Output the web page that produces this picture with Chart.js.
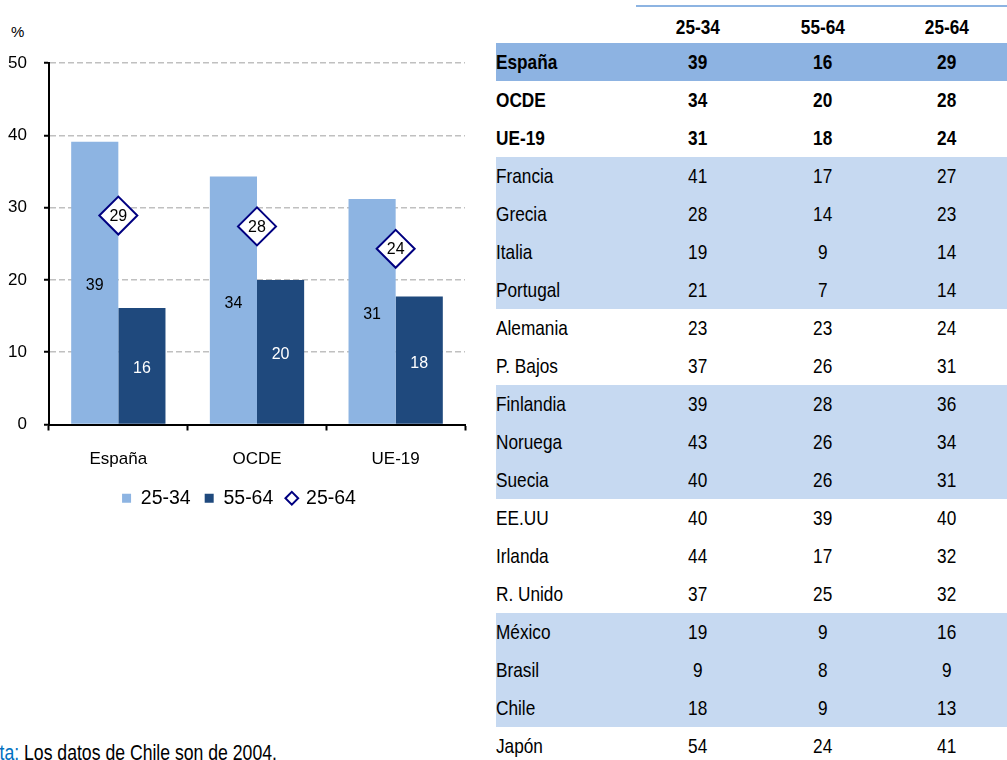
<!DOCTYPE html>
<html>
<head>
<meta charset="utf-8">
<script src="https://cdn.jsdelivr.net/npm/chart.js@4.4.1/dist/chart.umd.min.js"></script>
<style>
  html, body { margin: 0; padding: 0; background: #fff; overflow: hidden; }
  body { width: 1007px; height: 760px; position: relative; font-family: Arial, "Liberation Sans", sans-serif; }
  #chartBox { position: absolute; left: 0; top: 0; width: 486px; height: 526px; }
  #pct { position: absolute; left: 11px; top: 23px; font-size: 15px; color: #000; }
  #tableBox { position: absolute; left: 496px; top: 5px; }
  table { border-collapse: collapse; font-family: "Liberation Sans", Arial, sans-serif; font-size: 21px; color: #000; }
  td, th { height: 38px; padding: 0; white-space: nowrap; }
  td.name { width: 140px; text-align: left; }
  td.num, th.num { text-align: center; }
  .nw { display: inline-block; transform: scaleX(0.82); }
  td.name .nw { transform-origin: 0 50%; }
  td.num .nw, th.num .nw { transform-origin: 50% 50%; }
  th { font-weight: bold; border-top: 2px solid #8db4e2; padding-top: 4px; height: 32px; }
  th.blank { border-top: none; }
  tr.dark td { background: #8db3e2; }
  tr.light td { background: #c6d9f1; }
  tr.bold td { font-weight: bold; }
  #nota { position: absolute; left: -23px; top: 741px; font-family: "Liberation Sans", Arial, sans-serif; font-size: 21.5px; color: #000; white-space: nowrap; transform: scaleX(0.82); transform-origin: 0 50%; }
  #nota span { color: #0070c0; }
</style>
</head>
<body>
<div id="pct">%</div>
<div id="chartBox"><canvas id="barChart"></canvas></div>
<div id="tableBox"><table id="tbl"></table></div>
<div id="nota"><span>Nota:</span> Los datos de Chile son de 2004.</div>
<script>
// datos del gráfico
const categories = ['España', 'OCDE', 'UE-19'];
const young = [39.1, 34.3, 31.2];   // 25-34
const old = [16.1, 20.0, 17.7];     // 55-64
const total = [28.9, 27.4, 24.3];   // 25-64
const yTicks = [0, 10, 20, 30, 40, 50];

// datos de la tabla
const countries = ['España', 'OCDE', 'UE-19', 'Francia', 'Grecia', 'Italia', 'Portugal', 'Alemania', 'P. Bajos',
  'Finlandia', 'Noruega', 'Suecia', 'EE.UU', 'Irlanda', 'R. Unido', 'México', 'Brasil', 'Chile', 'Japón'];
const t2534 = [39, 34, 31, 41, 28, 19, 21, 23, 37, 39, 43, 40, 40, 44, 37, 19, 9, 18, 54];
const t5564 = [16, 20, 18, 17, 14, 9, 7, 23, 26, 28, 26, 26, 39, 17, 25, 9, 8, 9, 24];
const t2564 = [29, 28, 24, 27, 23, 14, 14, 24, 31, 36, 34, 31, 40, 32, 32, 16, 9, 13, 41];
const rowBands = ['dark bold', 'bold', 'bold', 'light', 'light', 'light', 'light', '', '',
  'light', 'light', 'light', '', '', '', 'light', 'light', 'light', ''];
const headers = ['25-34', '55-64', '25-64'];
const colWidths = [124, 126, 121];

// tabla
const nw = t => '<span class="nw">' + t + '</span>';
const tbl = document.getElementById('tbl');
let html = '<tr><th class="blank"></th>' + headers.map((h, i) => '<th class="num" style="width:' + colWidths[i] + 'px">' + nw(h) + '</th>').join('') + '</tr>';
countries.forEach((c, i) => {
  html += '<tr class="' + rowBands[i] + '"><td class="name">' + nw(c) + '</td><td class="num">' + nw(t2534[i]) +
    '</td><td class="num">' + nw(t5564[i]) + '</td><td class="num">' + nw(t2564[i]) + '</td></tr>';
});
tbl.innerHTML = html;

// etiquetas de valores
const valueLabels = [t2534.slice(0, 3), t5564.slice(0, 3), t2564.slice(0, 3)];
const labelColors = ['#000', '#fff', '#000'];

const valueLabelPlugin = {
  id: 'valueLabels',
  afterDatasetsDraw(chart) {
    const ctx = chart.ctx;
    ctx.save();
    ctx.font = '16px Arial, "Liberation Sans", sans-serif';
    ctx.textAlign = 'center';
    ctx.textBaseline = 'middle';
    chart.data.datasets.forEach((ds, di) => {
      const meta = chart.getDatasetMeta(di);
      meta.data.forEach((el, i) => {
        ctx.fillStyle = labelColors[di];
        let y = el.y + 1;
        if (ds.type !== 'line') y = (el.y + el.base) / 2 + 3;
        ctx.fillText(String(valueLabels[di][i]), el.x, y);
      });
    });
    ctx.restore();
  }
};

const legendShapes = ['rect', 'rect', 'rectRot'];

const barCtx = document.getElementById('barChart').getContext('2d');
const barChart = new Chart(barCtx, {
  type: 'bar',
  data: {
    labels: categories,
    datasets: [{
      label: '25-34',
      data: young,
      backgroundColor: '#8db4e2',
      borderWidth: 0,
      order: 2,
      categoryPercentage: 0.68,
      barPercentage: 1
    }, {
      label: '55-64',
      data: old,
      backgroundColor: '#1f497d',
      borderWidth: 0,
      order: 2,
      categoryPercentage: 0.68,
      barPercentage: 1
    }, {
      type: 'line',
      label: '25-64',
      data: total,
      showLine: false,
      pointStyle: 'rectRot',
      pointRadius: 19,
      pointHoverRadius: 19,
      pointBackgroundColor: '#fff',
      pointBorderColor: '#000080',
      pointBorderWidth: 2,
      backgroundColor: '#fff',
      borderColor: '#000080',
      borderWidth: 2,
      order: 0
    }]
  },
  options: {
    responsive: true,
    maintainAspectRatio: false,
    animation: false,
    layout: { padding: { top: 63, right: 8, left: 0, bottom: 8 } },
    scales: {
      x: {
        grid: { drawOnChartArea: false, drawTicks: true, tickLength: 6, tickColor: '#000', tickWidth: 2 },
        border: { color: '#000', width: 2 },
        ticks: { color: '#000', font: { size: 17, family: 'Arial, "Liberation Sans", sans-serif' }, padding: 19 },
        afterFit(scale) { scale.height = 50; }
      },
      y: {
        min: 0,
        max: 50,
        afterBuildTicks(scale) { scale.ticks = yTicks.map(v => ({ value: v })); },
        grid: { color: '#c0c0c0', lineWidth: 1.5, tickColor: '#000', tickLength: 5, tickWidth: 2 },
        border: { color: '#000', width: 2, dash: [6, 3] },
        ticks: { color: '#000', font: { size: 17, family: 'Arial, "Liberation Sans", sans-serif' }, padding: 17 },
        afterFit(scale) { scale.width = 49; }
      }
    },
    plugins: {
      legend: {
        position: 'bottom',
        labels: {
          usePointStyle: true,
          boxWidth: 9,
          boxHeight: 9,
          padding: 14,
          color: '#000',
          font: { size: 19.5, family: 'Arial, "Liberation Sans", sans-serif' },
          generateLabels(chart) {
            const items = Chart.defaults.plugins.legend.labels.generateLabels(chart);
            items.forEach(it => { it.pointStyle = legendShapes[it.datasetIndex]; });
            return items.sort((a, b) => a.datasetIndex - b.datasetIndex);
          }
        }
      },
      tooltip: { enabled: false }
    }
  },
  plugins: [valueLabelPlugin]
});
</script>
</body>
</html>
